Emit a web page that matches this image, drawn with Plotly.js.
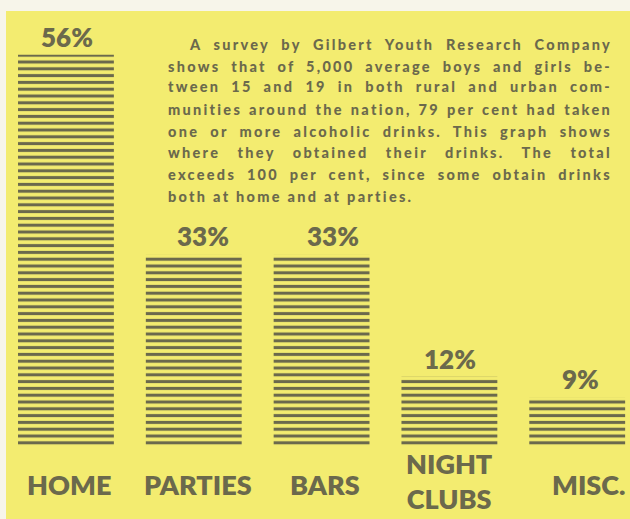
<!DOCTYPE html>
<html>
<head>
<meta charset="utf-8">
<script src="https://cdn.plot.ly/plotly-3.0.1.min.js"></script>
<style>
html,body{margin:0;padding:0;background:#f7f5ea;}
#chart{width:630px;height:519px;}
</style>
</head>
<body>
<div id="chart"></div>
<script>
// ---- data ----
const categories = ['HOME', 'PARTIES', 'BARS', 'NIGHT CLUBS', 'MISC.'];
const categoryLabels = ['HOME', 'PARTIES', 'BARS', 'NIGHT<br>CLUBS', 'MISC.'];
const percentValues = [56, 33, 33, 12, 9];
// bar heights as drawn in the original (the HOME bar is drawn taller than its 56%)
const barHeights = [67.3, 33, 33, 12, 8.5];
const paragraphLines = [
  'A survey by Gilbert Youth Research Company',
  'shows that of 5,000 average boys and girls be-',
  'tween 15 and 19 in both rural and urban com-',
  'munities around the nation, 79 per cent had taken',
  'one or more alcoholic drinks. This graph shows',
  'where they obtained their drinks. The total',
  'exceeds 100 per cent, since some obtain drinks',
  'both at home and at parties.'
];

// ---- styles ----
const INK = '#6b694c';
const YELLOW = '#f3ec70';
const FONT = 'Lato, "Open Sans", sans-serif';
const W = 630, H = 519, ML = 6, MT = 11;
const px = x => (x - ML) / (W - ML);
const py = y => (H - y) / (H - MT);
const pctShift = [1, 9, 11, 1, 3];
const labelShift = [3, 4, 3, 0, 11];
const lineY = [44, 66, 87, 109, 131, 153, 174, 196];

const annotations = [];
categories.forEach((c, i) => {
  annotations.push({
    x: c, y: barHeights[i], xref: 'x', yref: 'y',
    text: percentValues[i] + '%', showarrow: false,
    xanchor: 'center', yanchor: 'middle', yshift: 18, xshift: pctShift[i],
    font: {family: FONT, size: 26, color: INK, weight: 800}
  });
  annotations.push({
    x: c, y: i === 3 ? -5.9 : -6.6, xref: 'x', yref: 'y',
    text: categoryLabels[i], showarrow: false,
    xanchor: 'center', yanchor: 'middle', xshift: labelShift[i],
    font: {family: FONT, size: 27, color: INK, weight: 800}
  });
});
const P0 = annotations.length;
paragraphLines.forEach((t, i) => {
  annotations.push({
    x: px(i === 0 ? 187 : 166), y: py(lineY[i]), xref: 'paper', yref: 'paper',
    text: t, showarrow: false, xanchor: 'left', yanchor: 'middle', align: 'left',
    font: {family: FONT, size: 14.5, color: INK, weight: 900}
  });
});

const data = [{
  type: 'bar',
  x: categories,
  y: barHeights,
  width: 0.75,
  marker: {
    color: YELLOW,
    line: {width: 0},
    pattern: {shape: '-', fgcolor: INK, bgcolor: YELLOW, size: 6.8, solidity: 0.45, fillmode: 'replace'}
  },
  hoverinfo: 'skip',
  cliponaxis: false
}];

const layout = {
  width: W, height: H,
  margin: {l: ML, r: 0, t: MT, b: 0, pad: 0},
  paper_bgcolor: '#f7f5ea',
  plot_bgcolor: YELLOW,
  showlegend: false,
  xaxis: {type: 'category', range: [-0.469, 4.413], visible: false},
  yaxis: {range: [-12.46, 74.8], visible: false},
  annotations: annotations
};

Plotly.newPlot('chart', data, layout, {staticPlot: true, displayModeBar: false}).then(gd => {
  const getText = i => gd.querySelector('g.annotation[data-index="' + i + '"] text');
  const width = el => el.getBBox().width;
  const els = paragraphLines.map((t, i) => getText(P0 + i));
  if (els.some(e => !e)) return;
  const targets = [423, 444, 444, 444, 444, 444, 444, 272];
  // tracking: as wide as the last line wants, but leaving each justified line room for its spaces
  let ls = (targets[7] - width(els[7])) / (paragraphLines[7].length - 1);
  for (let i = 0; i < 7; i++) {
    const spaces = (paragraphLines[i].match(/ /g) || []).length;
    const maxLs = (targets[i] - width(els[i]) - spaces * 1.5) / (paragraphLines[i].length - 1);
    ls = Math.min(ls, maxLs);
  }
  els.forEach(el => { el.style.letterSpacing = ls + 'px'; });
  // justify the other lines with word spacing
  for (let i = 0; i < 7; i++) {
    const el = els[i];
    const spaces = (paragraphLines[i].match(/ /g) || []).length;
    let ws = 0;
    for (let k = 0; k < 3; k++) {
      ws += (targets[i] - width(el)) / spaces;
      el.style.wordSpacing = ws + 'px';
    }
  }
});
</script>
</body>
</html>
